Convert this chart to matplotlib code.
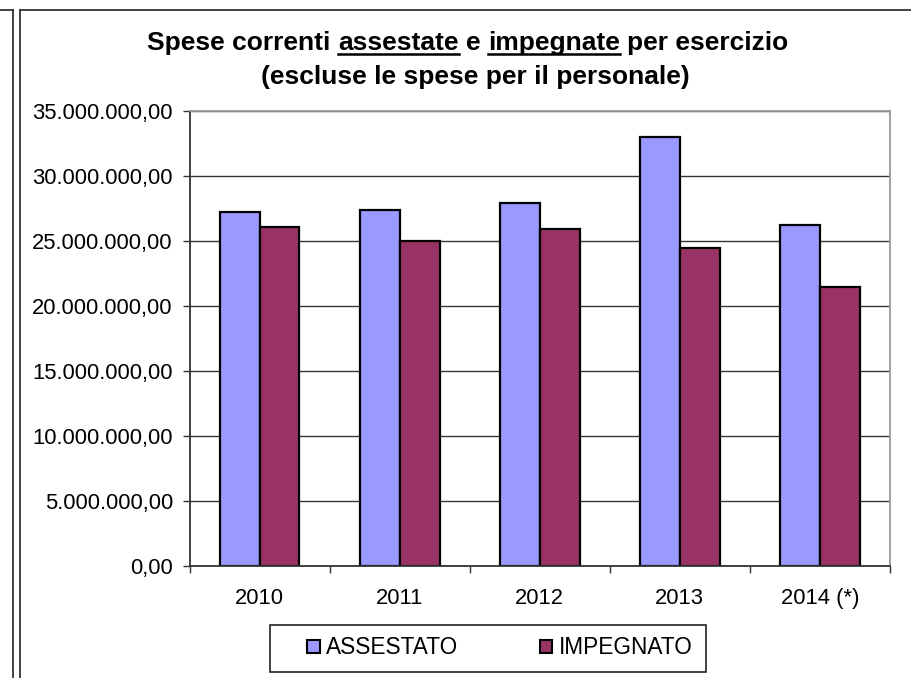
import matplotlib
matplotlib.use("Agg")
import matplotlib.pyplot as plt
import numpy as np
from matplotlib.lines import Line2D
from matplotlib.patches import Patch, Rectangle
from matplotlib.ticker import FuncFormatter, FixedLocator

plt.rcParams["font.family"] = ["Liberation Sans", "DejaVu Sans"]

years = ["2010", "2011", "2012", "2013", "2014 (*)"]
assestato = [27200000, 27400000, 27900000, 33000000, 26200000]
impegnato = [26100000, 25000000, 25900000, 24500000, 21500000]
series_names = ["ASSESTATO", "IMPEGNATO"]
colors = ["#9999FF", "#993366"]

W, H = 911, 678
fig = plt.figure(figsize=(W / 100, H / 100), dpi=100)


def fx(px):
    return px / W


def fy(py):
    return 1 - py / H


# outer frame lines (page borders)
for xs, ys in [((0, 13), (10, 10)), ((13, 13), (10, H)),
               ((19.5, 19.5), (10, H)), ((19.5, W), (10, 10))]:
    fig.add_artist(Line2D([fx(x) for x in xs], [fy(y) for y in ys],
                          color="#333333", lw=1.3, transform=fig.transFigure))

ax = fig.add_axes([fx(189.5), fy(566), fx(890) - fx(189.5), fy(111) - fy(566)])

x = np.arange(len(years))
bw = 0.285
ax.bar(x - bw / 2, assestato, bw, color=colors[0], edgecolor="black", linewidth=1.6)
ax.bar(x + bw / 2, impegnato, bw, color=colors[1], edgecolor="black", linewidth=1.6)

ax.set_xlim(-0.5, len(years) - 0.5)
ax.set_ylim(0, 35000000)
ax.set_yticks(np.arange(0, 35000001, 5000000))
ax.yaxis.set_major_formatter(FuncFormatter(
    lambda v, p: f"{v:,.2f}".replace(",", "X").replace(".", ",").replace("X", ".")))
ax.set_xticks(x)
ax.set_xticklabels(years)
ax.xaxis.set_minor_locator(FixedLocator(np.arange(-0.5, len(years), 1.0)))
ax.tick_params(axis="x", which="major", length=0, pad=15.5, labelsize=15.8)
ax.tick_params(axis="x", which="minor", length=5, width=1, color="#333333")
ax.tick_params(axis="y", length=5, width=1, color="#333333", pad=7, labelsize=15.8)

ax.set_axisbelow(True)
ax.yaxis.grid(True, color="#333333", lw=1)
ax.spines["left"].set_color("#333333")
ax.spines["bottom"].set_color("#333333")
ax.spines["top"].set_color("#999999")
ax.spines["right"].set_color("#999999")
for s in ax.spines.values():
    s.set_linewidth(1.3)

# legend: box drawn separately for the wide side padding
fig.add_artist(Rectangle((fx(270), fy(672)), fx(706) - fx(270), fy(625) - fy(672),
                         facecolor="white", edgecolor="#222222", lw=1.2,
                         transform=fig.transFigure))
handles = [Patch(facecolor=c, edgecolor="black", linewidth=1.5) for c in colors]
fig.legend(handles, series_names, loc="center", bbox_to_anchor=(fx(500), fy(648)),
           ncol=2, fontsize=16.3, frameon=False,
           handlelength=0.55, handleheight=0.55, handletextpad=0.3,
           columnspacing=3.6, borderpad=0.3, borderaxespad=0)

# title with underlined words
title_kw = dict(fontsize=19, fontweight="bold", color="black")
renderer = fig.canvas.get_renderer()


def text_width(s):
    t = fig.text(0, 0, s, **title_kw)
    w = t.get_window_extent(renderer).width
    t.remove()
    return w


space = text_width("a a") - text_width("aa")
pieces = [("Spese correnti", False), ("assestate", True), ("e", False),
          ("impegnate", True), ("per esercizio", False)]
widths = [text_width(p) for p, _ in pieces]
total = sum(widths) + space * (len(pieces) - 1)
cx, base1 = 468, 50
xpos = cx - total / 2
for (p, ul), w in zip(pieces, widths):
    fig.text(fx(xpos), fy(base1), p, ha="left", va="baseline", **title_kw)
    if ul:
        fig.add_artist(Line2D([fx(xpos), fx(xpos + w)], [fy(base1 + 3.5), fy(base1 + 3.5)],
                              color="black", lw=1.8, transform=fig.transFigure))
    xpos += w + space
fig.text(fx(475), fy(84), "(escluse le spese per il personale)", ha="center",
         va="baseline", **title_kw)

fig.savefig("out.png", dpi=100)
